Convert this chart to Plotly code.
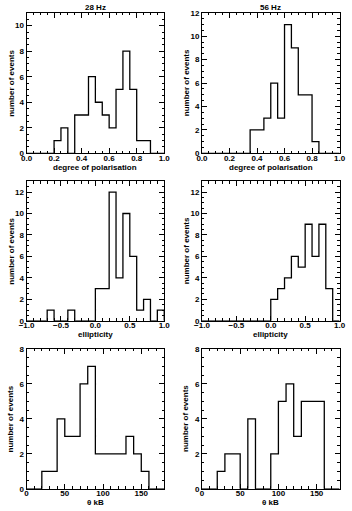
import plotly.graph_objects as go

# ---- data (bin start, bin width, counts) ----
pol28_start, pol28_width = 0.0, 0.05
pol28_counts = [0, 0, 0, 0, 1, 2, 0, 3, 3, 6, 4, 3, 2, 5, 8, 5, 1, 1, 0, 0]

pol56_start, pol56_width = 0.0, 0.05
pol56_counts = [0, 0, 0, 0, 0, 0, 0, 2, 2, 3, 6, 3, 11, 9, 5, 5, 1, 0, 0, 0]

ell28_start, ell28_width = -1.0, 0.1
ell28_counts = [0, 0, 0, 1, 0, 0, 1, 0, 0, 0, 3, 3, 12, 4, 10, 6, 1, 2, 0, 1]

ell56_start, ell56_width = -1.0, 0.1
ell56_counts = [0, 0, 0, 0, 0, 0, 0, 0, 0, 0, 2, 3, 4, 6, 5, 9, 6, 9, 3, 0]

th28_start, th28_width = 0, 10
th28_counts = [0, 0, 1, 1, 4, 3, 3, 6, 7, 2, 2, 2, 2, 3, 2, 1, 0, 0]

th56_start, th56_width = 0, 10
th56_counts = [0, 0, 1, 2, 2, 0, 4, 0, 0, 2, 5, 6, 3, 5, 5, 5, 0, 0]

titles = ["28 Hz", "56 Hz"]
xtitles = ["degree of polarisation", "ellipticity", "θ kB"]
ytitle = "number of events"

panels = [
    (pol28_start, pol28_width, pol28_counts),
    (pol56_start, pol56_width, pol56_counts),
    (ell28_start, ell28_width, ell28_counts),
    (ell56_start, ell56_width, ell56_counts),
    (th28_start, th28_width, th28_counts),
    (th56_start, th56_width, th56_counts),
]

# ---- layout geometry ----
W, H = 352, 511
col_px = [(19.3, 162.7), (202.0, 345.3)]
row_px = [(9.0, 152.0), (180.5, 322.5), (351.0, 493.5)]

xranges = [[0, 1], [-1, 1], [0, 180]]
xdticks = [0.2, 0.5, 50]
xminor = [0.05, 0.1, 10]
yranges = [[[0, 11], [0, 12]], [[0, 13], [0, 13]], [[0, 8], [0, 8]]]
xfmt = [".1f", ".1f", "d"]

FONT = "Liberation Sans"
fig = go.Figure()
layout = dict(
    width=W, height=H, margin=dict(l=0, r=0, t=0, b=0),
    paper_bgcolor="white", plot_bgcolor="white", showlegend=False,
    font=dict(family=FONT, size=8, color="black", weight="bold"),
)
annotations = []

for i, (start, width, counts) in enumerate(panels):
    r, c = divmod(i, 2)
    n = len(counts)
    edges = [start + k * width for k in range(n + 1)]
    xs = [edges[0]] + edges[:-1] + [edges[-1], edges[-1]]
    ys = [0] + counts + [counts[-1], 0]
    ax = "" if i == 0 else str(i + 1)
    fig.add_trace(go.Scatter(
        x=xs, y=ys, mode="lines", line=dict(color="black", width=1.3, shape="hv"),
        xaxis="x" + ax, yaxis="y" + ax, hoverinfo="skip", cliponaxis=False,
    ))
    x0, x1 = col_px[c]
    y0, y1 = row_px[r]
    common = dict(
        showline=True, linecolor="black", linewidth=1, mirror="ticks",
        ticks="inside", ticklen=5, tickwidth=1, tickcolor="black",
        showgrid=False, zeroline=False,
        tickfont=dict(family=FONT, size=8, color="black", weight="bold"),
    )
    layout["xaxis" + ax] = dict(
        common, domain=[x0 / W, x1 / W], range=xranges[r], dtick=xdticks[r],
        tick0=xranges[r][0], tickformat=xfmt[r], anchor="y" + ax,
        ticklabelstandoff=-3,
        minor=dict(ticks="inside", ticklen=2.5, dtick=xminor[r], tickcolor="black", showgrid=False),
    )
    layout["yaxis" + ax] = dict(
        common, domain=[1 - y1 / H, 1 - y0 / H], range=yranges[r][c], dtick=2,
        anchor="x" + ax,
        minor=dict(ticks="inside", ticklen=2.5, dtick=0.5, tickcolor="black", showgrid=False),
    )
    # x title
    annotations.append(dict(
        text=xtitles[r], xref="x" + ax + " domain", yref="paper",
        x=0.5, y=1 - (y1 + 14) / H, xanchor="center", yanchor="middle",
        showarrow=False, font=dict(family=FONT, size=8, color="black", weight="bold"),
    ))
    # y title
    annotations.append(dict(
        text=ytitle, xref="paper", yref="y" + ax + " domain",
        x=(x0 - 16.5) / W, y=0.5, xanchor="center", yanchor="middle", textangle=-90,
        showarrow=False, font=dict(family=FONT, size=8, color="black", weight="bold"),
    ))
    if r == 0:
        annotations.append(dict(
            text=titles[c], xref="x" + ax + " domain", yref="paper",
            x=0.5, y=1 - 4.0 / H, xanchor="center", yanchor="middle",
            showarrow=False, font=dict(family=FONT, size=8, color="black", weight="bold"),
        ))

layout["annotations"] = annotations
fig.update_layout(**layout)
fig.write_html("out.html")
